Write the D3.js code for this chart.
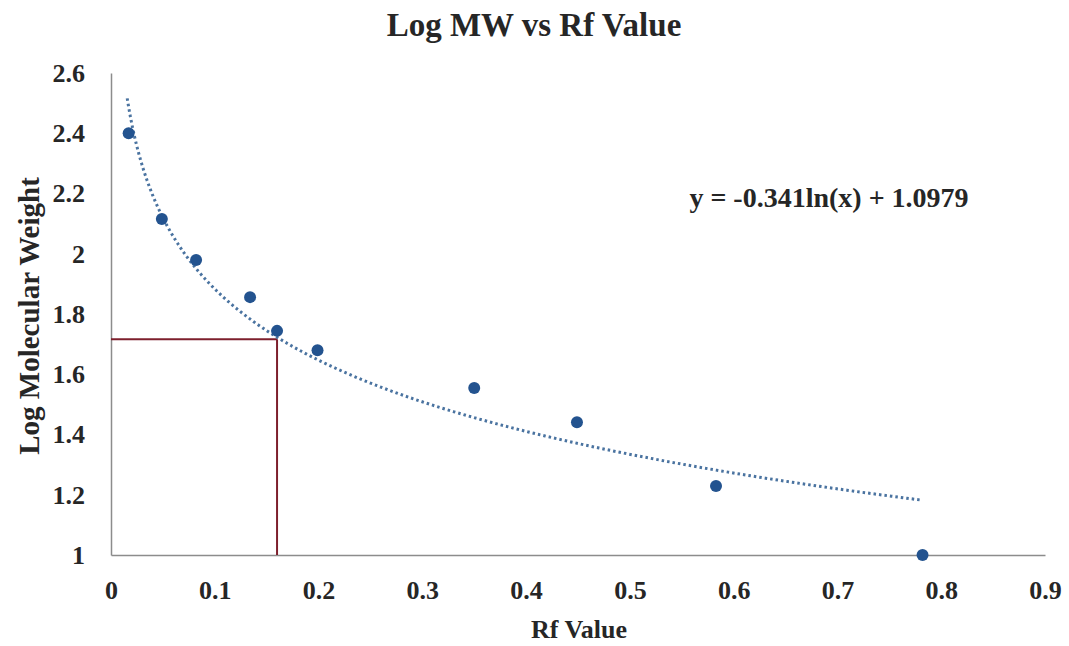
<!DOCTYPE html>
<html>
<head>
<meta charset="utf-8">
<script src="https://cdn.jsdelivr.net/npm/d3@7"></script>
<style>
  html, body { margin: 0; padding: 0; background: #fff; }
  svg { display: block; }
  text { font-family: "Liberation Serif", "Times New Roman", serif; font-weight: bold; fill: #262626; }
</style>
</head>
<body>
<script>
// Measured Rf values and log molecular weight of the standards
const rfValues = [0.017, 0.049, 0.082, 0.134, 0.160, 0.199, 0.350, 0.449, 0.583, 0.782];
const logMW    = [2.40, 2.115, 1.979, 1.856, 1.744, 1.680, 1.554, 1.441, 1.229, 1.00];

// Logarithmic trendline coefficients
const trendA = -0.341;
const trendB = 1.0979;
const trendLabel = "y = -0.341ln(x) + 1.0979";

// Unknown sample read-off
const unknownRf = 0.160;
const unknownLogMW = 1.716;

const xTicks = [0, 0.1, 0.2, 0.3, 0.4, 0.5, 0.6, 0.7, 0.8, 0.9];
const yTicks = [1, 1.2, 1.4, 1.6, 1.8, 2, 2.2, 2.4, 2.6];

const W = 1069, H = 646;
const margin = { left: 111, right: 24, top: 73, bottom: 91 };

const svg = d3.select("body").append("svg").attr("width", W).attr("height", H);

const x = d3.scaleLinear().domain([0, 0.9]).range([margin.left, W - margin.right]);
const y = d3.scaleLinear().domain([1, 2.6]).range([H - margin.bottom, margin.top]);

// Title
svg.append("text")
  .attr("x", 534).attr("y", 36)
  .attr("text-anchor", "middle")
  .style("font-size", "33px")
  .text("Log MW vs Rf Value");

// Axes
const xAxis = svg.append("g")
  .attr("transform", `translate(0,${y(1)})`)
  .call(d3.axisBottom(x).tickValues(xTicks).tickSize(0).tickPadding(26)
    .tickFormat(d => d === 0 ? "0" : d3.format(".1f")(d)));
const yAxis = svg.append("g")
  .attr("transform", `translate(${x(0)},0)`)
  .call(d3.axisLeft(y).tickValues(yTicks).tickSize(0).tickPadding(26)
    .tickFormat(d => Number.isInteger(d) ? String(d) : d3.format(".1f")(d)));

[xAxis, yAxis].forEach(g => {
  g.select(".domain").attr("stroke", "#8c8c8c").attr("stroke-width", 1.5);
  g.selectAll("text")
    .style("font-family", "'Liberation Serif', 'Times New Roman', serif")
    .style("font-weight", "bold")
    .style("font-size", "26px")
    .attr("fill", "#262626");
});

// Axis titles
svg.append("text")
  .attr("x", 579).attr("y", 638)
  .attr("text-anchor", "middle")
  .style("font-size", "26px")
  .text("Rf Value");
svg.append("text")
  .attr("transform", `translate(39,${316}) rotate(-90)`)
  .attr("text-anchor", "middle")
  .style("font-size", "29px")
  .text("Log Molecular Weight");

// Read-off lines for the unknown
svg.append("line")
  .attr("x1", x(0)).attr("x2", x(unknownRf))
  .attr("y1", y(unknownLogMW)).attr("y2", y(unknownLogMW))
  .attr("stroke", "#7d1f2c").attr("stroke-width", 2);
svg.append("line")
  .attr("x1", x(unknownRf)).attr("x2", x(unknownRf))
  .attr("y1", y(unknownLogMW)).attr("y2", y(1))
  .attr("stroke", "#7d1f2c").attr("stroke-width", 2);

// Logarithmic trendline over the data range
const xMin = d3.min(rfValues) * 0.92, xMax = d3.max(rfValues);
const trendPts = d3.range(0, 201).map(i => {
  const xv = xMin * Math.pow(xMax / xMin, i / 200);
  return [xv, trendA * Math.log(xv) + trendB];
});
svg.append("path")
  .datum(trendPts)
  .attr("fill", "none")
  .attr("stroke", "#4a73a0")
  .attr("stroke-width", 3)
  .attr("stroke-dasharray", "2.5,3")
  .attr("d", d3.line().x(d => x(d[0])).y(d => y(d[1])));

// Data points
svg.append("g").selectAll("circle")
  .data(rfValues.map((r, i) => [r, logMW[i]]))
  .join("circle")
  .attr("cx", d => x(d[0]))
  .attr("cy", d => y(d[1]))
  .attr("r", 6)
  .attr("fill", "#23538f");

// Trendline equation
svg.append("text")
  .attr("x", 829).attr("y", 207)
  .attr("text-anchor", "middle")
  .style("font-size", "28px")
  .text(trendLabel);
</script>
</body>
</html>
